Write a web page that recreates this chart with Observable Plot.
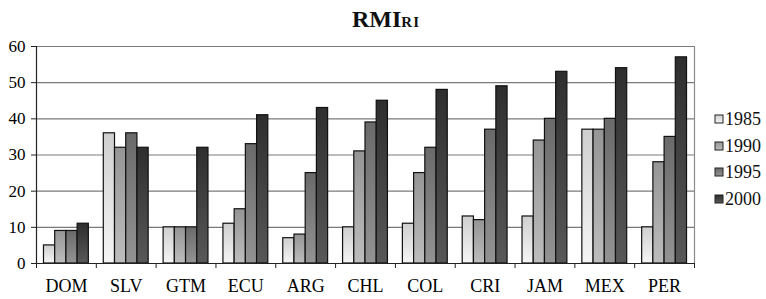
<!DOCTYPE html>
<html><head><meta charset="utf-8">
<script src="https://cdn.jsdelivr.net/npm/d3@7"></script>
<script src="https://cdn.jsdelivr.net/npm/@observablehq/plot@0.6"></script>
<style>
body{margin:0;background:#fff}
#chart{width:766px;height:299px;overflow:hidden}
#chart svg, #chart svg text{font-family:"Liberation Serif","Times New Roman",serif}
</style>
</head><body><div id="chart"></div>
<script>
const categories = ["DOM","SLV","GTM","ECU","ARG","CHL","COL","CRI","JAM","MEX","PER"];
const years = ["1985","1990","1995","2000"];
const values1985 = [5,36,10,11,7,10,11,13,13,37,10];
const values1990 = [9,32,10,15,8,31,25,12,34,37,28];
const values1995 = [9,36,10,33,25,39,32,37,40,40,35];
const values2000 = [11,32,32,41,43,45,48,49,53,54,57];
const yTicks = [0,10,20,30,40,50,60];
const titleMain = "RMI";
const titleSub = "RI";

const series = [values1985, values1990, values1995, values2000];
const gradStops = {
  "1985": ["#cfcfcf", "#f5f5f5"],
  "1990": ["#959595", "#bdbdbd"],
  "1995": ["#6a6a6a", "#939393"],
  "2000": ["#2e2e2e", "#585858"]
};
const data = [];
categories.forEach((c, i) => years.forEach((yr, k) => data.push({country: c, idx: i, year: yr, k, value: series[k][i]})));
const groupPad = 0.125, barW = (1 - 2 * groupPad) / years.length;
const serif = "Liberation Serif";

const plot = Plot.plot({
  width: 766, height: 299,
  marginLeft: 36, marginRight: 72, marginTop: 46, marginBottom: 36,
  style: {fontFamily: serif, fontSize: "16px", background: "white", color: "black", overflow: "visible"},
  x: {domain: [0, categories.length], axis: null},
  y: {domain: [0, 60], axis: null},
  color: {domain: years, range: years.map(y => `url(#grad${y})`)},
  marks: [
    Plot.ruleY(yTicks.filter(t => t > 0), {stroke: "#7a7a7a", strokeWidth: 1.2}),
    Plot.ruleX([categories.length], {stroke: "#8a8a8a", strokeWidth: 1.2}),
    Plot.rect(data, {
      x1: d => d.idx + groupPad + d.k * barW,
      x2: d => d.idx + groupPad + (d.k + 1) * barW,
      y1: 0, y2: "value",
      fill: "year", stroke: "#111", strokeWidth: 1.2
    }),
    Plot.ruleX([0], {stroke: "#222", strokeWidth: 1.2}),
    Plot.ruleY([0], {stroke: "#222", strokeWidth: 1.2}),
    Plot.axisY({ticks: yTicks, tickSize: 5, tickPadding: 6, fontSize: 17, fontFamily: serif, label: null,
      tickFormat: d => String(d), stroke: "#222"}),
    Plot.axisX({ticks: d3.range(categories.length + 1), tickSize: 5, tickFormat: () => "", label: null, stroke: "#222"}),
    Plot.axisX({ticks: categories.map((c, i) => i + 0.5), tickSize: 0, tickPadding: 16, fontSize: 18, fontFamily: serif,
      label: null, tickFormat: d => categories[Math.floor(d)]})
  ]
});

const svg = d3.select(plot);
const defs = svg.insert("defs", ":first-child");
years.forEach(y => {
  const g = defs.append("linearGradient").attr("id", `grad${y}`)
    .attr("x1", 0).attr("y1", 0).attr("x2", 0).attr("y2", 1);
  g.append("stop").attr("offset", "0%").attr("stop-color", gradStops[y][0]);
  g.append("stop").attr("offset", "100%").attr("stop-color", gradStops[y][1]);
});

// Title
const t = svg.append("text").attr("x", 386).attr("y", 27).attr("text-anchor", "middle")
  .attr("font-family", serif).attr("fill", "#111");
t.append("tspan").attr("font-size", 24).attr("font-weight", "bold").text(titleMain);
t.append("tspan").attr("font-size", 15).attr("font-weight", "bold").attr("letter-spacing", 1).text(titleSub);

// Legend
const legY = [119, 146, 172, 199];
const lg = svg.append("g").attr("font-family", serif).attr("font-size", 18).attr("text-anchor", "start");
years.forEach((y, i) => {
  lg.append("rect").attr("x", 715).attr("y", legY[i] - 4).attr("width", 8).attr("height", 8)
    .attr("fill", `url(#grad${y})`).attr("stroke", "#222").attr("stroke-width", 1);
  lg.append("text").attr("x", 725).attr("y", legY[i]).attr("dy", "0.35em").attr("text-anchor", "start")
    .attr("fill", "#111").text(y);
});

document.getElementById("chart").appendChild(plot);
</script>
</body></html>
